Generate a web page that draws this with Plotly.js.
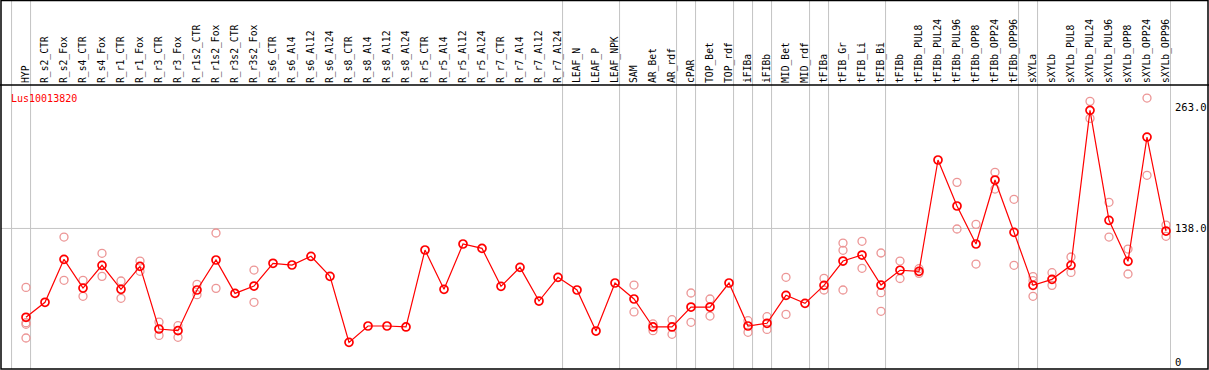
<!DOCTYPE html>
<html><head><meta charset="utf-8">
<script src="https://cdn.plot.ly/plotly-3.0.1.min.js"></script>
<style>html,body{margin:0;padding:0;background:#fff;overflow:hidden}#chart{width:1209px;height:370px}</style>
</head><body><div id="chart"></div>
<script>
const categories = ['HYP','R_s2_CTR','R_s2_Fox','R_s4_CTR','R_s4_Fox','R_r1_CTR','R_r1_Fox','R_r3_CTR','R_r3_Fox','R_r1s2_CTR','R_r1s2_Fox','R_r3s2_CTR','R_r3s2_Fox','R_s6_CTR','R_s6_Al4','R_s6_Al12','R_s6_Al24','R_s8_CTR','R_s8_Al4','R_s8_Al12','R_s8_Al24','R_r5_CTR','R_r5_Al4','R_r5_Al12','R_r5_Al24','R_r7_CTR','R_r7_Al4','R_r7_Al12','R_r7_Al24','LEAF_N','LEAF_P','LEAF_NPK','SAM','AR_Bet','AR_rdf','cPAR','TOP_Bet','TOP_rdf','iFIBa','iFIBb','MID_Bet','MID_rdf','tFIBa','tFIB_Gr','tFIB_Li','tFIB_Bi','tFIBb','tFIBb_PUL8','tFIBb_PUL24','tFIBb_PUL96','tFIBb_OPP8','tFIBb_OPP24','tFIBb_OPP96','sXYLa','sXYLb','sXYLb_PUL8','sXYLb_PUL24','sXYLb_PUL96','sXYLb_OPP8','sXYLb_OPP24','sXYLb_OPP96'];

const meanValues = [46.2,61.7,106.1,76.4,99.9,75.1,98.8,34.1,32.4,74.4,105.4,70.9,78.5,102.0,100.2,109.2,88.5,20.3,37.2,37.2,36.2,115.7,75.1,121.9,117.4,78.2,97.8,63.0,87.5,74.4,32.0,81.6,65.1,36.2,36.2,56.8,56.8,81.6,37.2,40.0,68.9,60.6,79.2,104.3,110.5,79.5,94.8,93.7,208.7,161.2,121.9,188.0,134.0,79.2,85.4,99.9,260.0,146.4,104.0,232.4,135.3];

const rep1 = [77.1,null,129.1,84.4,112.3,83.7,104.3,41.3,37.5,80.2,133.3,null,95.0,null,null,null,null,null,null,null,null,null,null,null,null,null,null,null,null,null,null,null,79.5,39.3,43.7,71.3,65.1,null,42.7,46.8,87.5,null,86.4,122.9,124.7,112.6,104.3,96.4,null,185.6,142.2,196.0,168.1,88.2,92.3,108.5,269.3,165.0,116.7,272.7,141.5];
const rep2 = [40.6,null,84.4,67.9,88.5,65.8,93.7,27.5,25.5,69.6,76.1,null,61.7,null,null,null,null,null,null,null,null,null,null,null,null,null,null,null,null,null,null,null,51.7,32.4,28.6,41.0,47.5,null,30.7,33.7,49.2,null,74.4,115.4,96.8,71.6,86.3,91.6,null,137.4,101.2,178.7,99.9,84.0,79.2,92.6,251.7,129.1,90.9,192.9,129.9];
const rep3 = [39.0,null,null,null,null,null,null,null,null,null,null,null,null,null,null,null,null,null,null,null,null,null,null,null,null,null,null,null,null,null,null,null,null,null,null,null,null,null,null,null,null,null,null,74.4,null,52.4,null,null,null,null,null,null,null,67.9,null,null,null,null,null,null,null];
const rep4 = [24.8,null,null,null,null,null,null,null,null,null,null,null,null,null,null,null,null,null,null,null,null,null,null,null,null,null,null,null,null,null,null,null,null,null,null,null,null,null,null,null,null,null,null,null,null,null,null,null,null,null,null,null,null,null,null,null,null,null,null,null,null];

const yTickVals = [0, 138, 263];
const yTickText = ['0', '138.0', '263.0'];
const geneLabel = 'Lus10013820';
const separatorAfter = ['HYP','R_r7_Al24','LEAF_NPK','AR_rdf','cPAR','TOP_rdf','iFIBa','iFIBb','MID_rdf','tFIBa','tFIB_Bi','tFIBb_OPP96','sXYLa','sXYLb_OPP96'];

const W = 1209, H = 370;
const M = {l: 1, r: 38, t: 85, b: 1};
const plotW = W - M.l - M.r, plotH = H - M.t - M.b;
const firstPx = 26, stepPx = 19;
const xRange = [(M.l - firstPx) / stepPx, (M.l + plotW - firstPx) / stepPx];
const yRange = [-7.23, 286.2];
const px2paperX = px => (px - M.l) / plotW;
const py2paperY = py => (H - M.b - py) / plotH;

const idx = categories.map((_, i) => i);
const pink = 'rgb(236,150,150)';
const repTrace = (vals) => ({
  x: idx, y: vals, type: 'scatter', mode: 'markers', cliponaxis: false,
  marker: {symbol: 'circle-open', size: 8, color: pink, line: {width: 1.3, color: pink}},
  hoverinfo: 'skip', showlegend: false
});

const traces = [
  repTrace(rep1), repTrace(rep2), repTrace(rep3), repTrace(rep4),
  {x: idx, y: meanValues, type: 'scatter', mode: 'lines+markers', cliponaxis: false,
   line: {color: '#ff0000', width: 1.2},
   marker: {symbol: 'circle-open', size: 8, color: '#ff0000', line: {width: 1.7, color: '#ff0000'}},
   hoverinfo: 'skip', showlegend: false}
];

const grey = '#c4c4c4';
const shapes = [];
const sepPositions = [-1].concat(separatorAfter.map(c => categories.indexOf(c)));
sepPositions.forEach(i => {
  shapes.push({type: 'line', layer: 'below', xref: 'x', yref: 'paper',
    x0: i + 0.24, x1: i + 0.24, y0: py2paperY(369), y1: py2paperY(0),
    line: {color: grey, width: 1}});
});
shapes.push({type: 'line', layer: 'below', xref: 'paper', yref: 'y',
  x0: 0, x1: 1, y0: 138, y1: 138, line: {color: grey, width: 1}});
shapes.push({type: 'line', xref: 'paper', yref: 'paper',
  x0: px2paperX(0), x1: px2paperX(W), y0: 1, y1: 1, line: {color: '#000', width: 1.5}});
shapes.push({type: 'rect', xref: 'paper', yref: 'paper',
  x0: px2paperX(1), x1: px2paperX(1208), y0: py2paperY(369), y1: py2paperY(0.5),
  line: {color: '#000', width: 1.5}, fillcolor: 'rgba(0,0,0,0)'});

const layout = {
  width: W, height: H, margin: M,
  paper_bgcolor: '#fff', plot_bgcolor: '#fff',
  showlegend: false, hovermode: false,
  xaxis: {range: xRange, side: 'top', tickmode: 'array', tickvals: idx, ticktext: categories,
    tickangle: -90, tickfont: {family: 'DejaVu Sans Mono', size: 9.7, color: '#000'},
    showgrid: false, zeroline: false, showline: false, ticks: '', ticklabelstandoff: 1, fixedrange: true},
  yaxis: {range: yRange, side: 'right', tickmode: 'array', tickvals: yTickVals, ticktext: yTickText,
    tickfont: {family: 'DejaVu Sans Mono', size: 10.5, color: '#000'},
    showgrid: false, zeroline: false, showline: false, ticks: '', ticklabelstandoff: 3, fixedrange: true},
  shapes: shapes,
  annotations: [{text: geneLabel, xref: 'paper', yref: 'paper', x: px2paperX(9), y: py2paperY(98),
    xanchor: 'left', yanchor: 'middle', showarrow: false,
    font: {family: 'DejaVu Sans Mono', size: 10, color: '#ff0000'}}]
};

Plotly.newPlot('chart', traces, layout, {displayModeBar: false, staticPlot: true});
</script></body></html>
